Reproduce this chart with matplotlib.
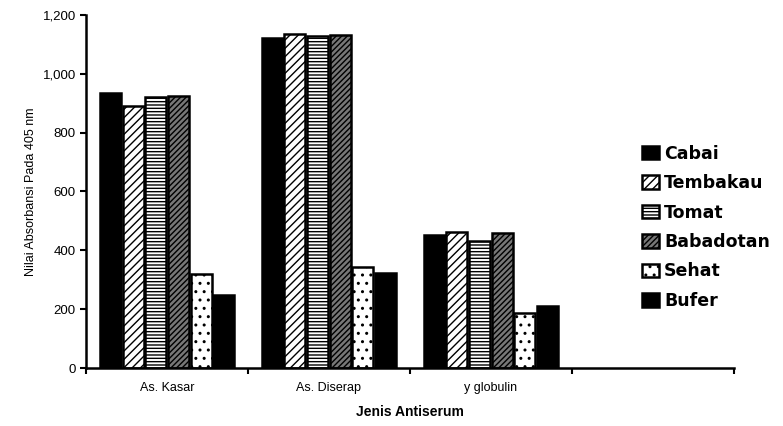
import numpy as np
import matplotlib; matplotlib.use("Agg"); import matplotlib.pyplot as plt
from matplotlib.ticker import FuncFormatter

plt.rcParams["font.family"] = ["Liberation Sans", "DejaVu Sans"]
plt.rcParams["hatch.linewidth"] = 1.0

# --- data ---
kategori = ["As. Kasar", "As. Diserap", "y globulin", ""]
seri = ["Cabai", "Tembakau", "Tomat", "Babadotan", "Sehat", "Bufer"]
cabai     = [935, 1122, 452]
tembakau  = [890, 1134, 462]
tomat     = [920, 1128, 433]
babadotan = [925, 1132, 459]
sehat     = [320, 342, 187]
bufer     = [248, 323, 212]
nilai = [cabai, tembakau, tomat, babadotan, sehat, bufer]

gaya = [dict(fc="black", hatch=None),
        dict(fc="white", hatch="////"),
        dict(fc="white", hatch="-----"),
        dict(fc="#777777", hatch="//////"),
        dict(fc="white", hatch=".."),
        dict(fc="black", hatch=None)]

fig = plt.figure(figsize=(7.83, 4.26), dpi=100)
ax = fig.add_axes([0.110, 0.136, 0.827, 0.829])

x = np.arange(len(kategori[:3])) + 0.5
w = 0.13
for i, (nm, val, st) in enumerate(zip(seri, nilai, gaya)):
    ax.bar(x + (i - 2.5) * (w + 0.01), val, w, color=st["fc"], hatch=st["hatch"],
           edgecolor="black", linewidth=1.8, label=nm)

ax.set_xlim(0, 4); ax.set_ylim(0, 1200)
ax.set_yticks(range(0, 1201, 200))
ax.yaxis.set_major_formatter(FuncFormatter(lambda v, p: f"{int(v):,}"))
ax.set_xticks([0, 1, 2, 3, 4]); ax.set_xticklabels([])
ax.set_xticks(np.arange(4) + 0.5, minor=True)
ax.set_xticklabels(kategori, minor=True, fontsize=9)
ax.tick_params(axis="x", which="minor", length=0, pad=10)
ax.tick_params(axis="x", which="major", length=4, width=1.5, direction="out")
ax.tick_params(axis="y", length=4, width=1.5, labelsize=9.5)
for s in ("top", "right"): ax.spines[s].set_visible(False)
for s in ("left", "bottom"): ax.spines[s].set_linewidth(1.8)

ax.set_ylabel("Nilai Absorbansi Pada 405 nm", fontsize=9,
              family=["Liberation Sans Narrow", "Liberation Sans", "DejaVu Sans"])
ax.set_xlabel("Jenis Antiserum", fontsize=10, fontweight="bold", labelpad=8)

fig.legend(loc="upper left", bbox_to_anchor=(626/783, 1 - 129/426), frameon=False,
           prop=dict(size=12.5, weight="bold", family="DejaVu Sans"),
           handlelength=1.0, handleheight=0.8,
           handletextpad=0.3, labelspacing=0.66)

plt.savefig("out.png", dpi=100)
